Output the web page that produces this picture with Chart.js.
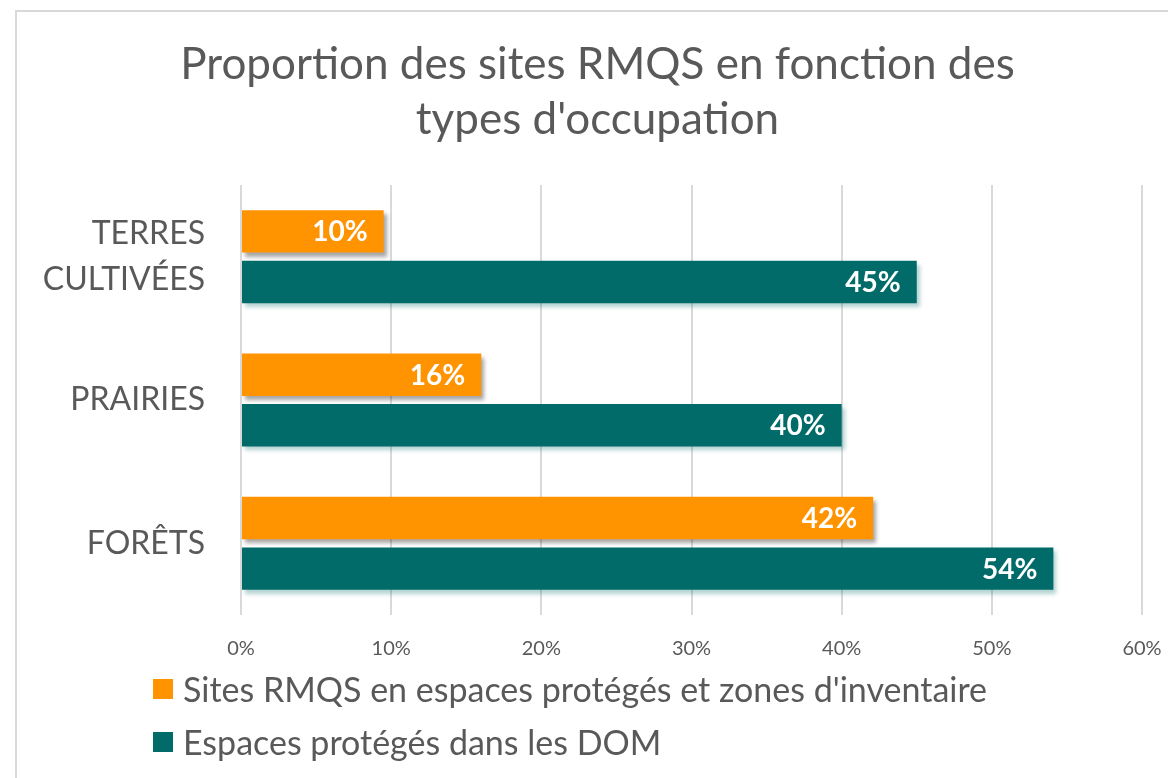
<!DOCTYPE html>
<html>
<head>
<meta charset="utf-8">
<script src="https://cdn.jsdelivr.net/npm/chart.js@4.4.1/dist/chart.umd.min.js"></script>
<style>
	body { margin: 0; background: #fff; font-family: Lato, sans-serif; overflow: hidden; }
	#frame { position: absolute; left: 15px; top: 10px; width: 1200px; height: 800px; border: 2px solid #d9d9d9; box-sizing: border-box; }
	#chart { position: absolute; left: 0; top: 0; }
	#legend { position: absolute; left: 153px; top: 662px; }
	.item { display: flex; align-items: center; height: 53px; font-size: 34px; color: #595959; white-space: nowrap; }
	.box { width: 20px; height: 20px; margin-right: 10px; flex: none; }
</style>
</head>
<body>
<div id="frame"></div>
<canvas id="chart" width="1168" height="665"></canvas>
<div id="legend"></div>
<script>
const categories = [ [ 'TERRES', 'CULTIVÉES' ], 'PRAIRIES', 'FORÊTS' ];
const sitesRmqs = [ 9.5, 16, 42.1 ];
const espacesDom = [ 45, 40, 54.1 ];
const seriesNames = [ 'Sites RMQS en espaces protégés et zones d\'inventaire', 'Espaces protégés dans les DOM' ];
const seriesColors = [ '#ff9300', '#006b68' ];
const shadowColors = [ 'rgba(0,0,0,0.35)', 'rgba(0,107,104,0.3)' ];

const grey = '#595959';

// drop shadow under bars
const barShadow = {
	id: 'barShadow',
	beforeDatasetDraw(chart, args) {
		const ctx = chart.ctx;
		ctx.save();
		ctx.shadowColor = shadowColors[args.index];
		ctx.shadowOffsetX = 3;
		ctx.shadowOffsetY = 4;
		ctx.shadowBlur = 4;
	},
	afterDatasetDraw(chart) {
		chart.ctx.restore();
	}
};

// white value labels at the end of the bars
const valueLabels = {
	id: 'valueLabels',
	afterDatasetsDraw(chart) {
		const ctx = chart.ctx;
		ctx.save();
		ctx.font = 'bold 28px Lato';
		ctx.fillStyle = '#fff';
		ctx.textAlign = 'right';
		ctx.textBaseline = 'middle';
		chart.data.datasets.forEach((ds, i) => {
			chart.getDatasetMeta(i).data.forEach((bar, j) => {
				ctx.fillText(Math.round(ds.data[j]) + '%', bar.x - 16, bar.y + 1);
			});
		});
		ctx.restore();
	}
};

const chart = new Chart(document.getElementById('chart').getContext('2d'), {
	type: 'bar',
	data: {
		labels: categories,
		datasets: [
			{
				label: seriesNames[0],
				data: sitesRmqs,
				backgroundColor: seriesColors[0],
				barPercentage: 0.84,
				categoryPercentage: 0.705
			},
			{
				label: seriesNames[1],
				data: espacesDom,
				backgroundColor: seriesColors[1],
				barPercentage: 0.84,
				categoryPercentage: 0.705
			}
		]
	},
	options: {
		indexAxis: 'y',
		responsive: false,
		animation: false,
		layout: {
			padding: { left: 27, right: 0, top: 0, bottom: 0 }
		},
		scales: {
			x: {
				min: 0,
				max: 60,
				ticks: {
					stepSize: 10,
					padding: 22,
					color: grey,
					font: { family: 'Lato', size: 20 },
					callback: (v) => v + '%'
				},
				grid: { color: '#d9d9d9', lineWidth: 2, drawTicks: false },
				border: { display: false },
				afterFit: (s) => {
					s.height = 50;
					s.paddingLeft = 0;
					s.paddingRight = 26;
				}
			},
			y: {
				ticks: {
					padding: 36,
					color: grey,
					font: { family: 'Lato', size: 32, lineHeight: 1.45 }
				},
				grid: { display: false, drawTicks: false },
				border: { display: false },
				afterFit: (s) => {
					s.width = 214;
					s.paddingTop = 0;
					s.paddingBottom = 0;
				}
			}
		},
		plugins: {
			legend: { display: false },
			tooltip: { enabled: false },
			title: {
				display: true,
				text: [ 'Proportion des sites RMQS en fonction des', 'types d\'occupation' ],
				color: grey,
				font: { family: 'Lato', size: 44, weight: 'normal', lineHeight: 1.25 },
				padding: { top: 37, bottom: 38 }
			}
		}
	},
	plugins: [ barShadow, valueLabels ]
});

// legend as html
const legend = document.getElementById('legend');
chart.data.datasets.forEach((ds) => {
	const item = document.createElement('div');
	item.className = 'item';
	item.innerHTML = '<span class="box" style="background:' + ds.backgroundColor + '"></span>' + ds.label;
	legend.appendChild(item);
});
</script>
</body>
</html>
